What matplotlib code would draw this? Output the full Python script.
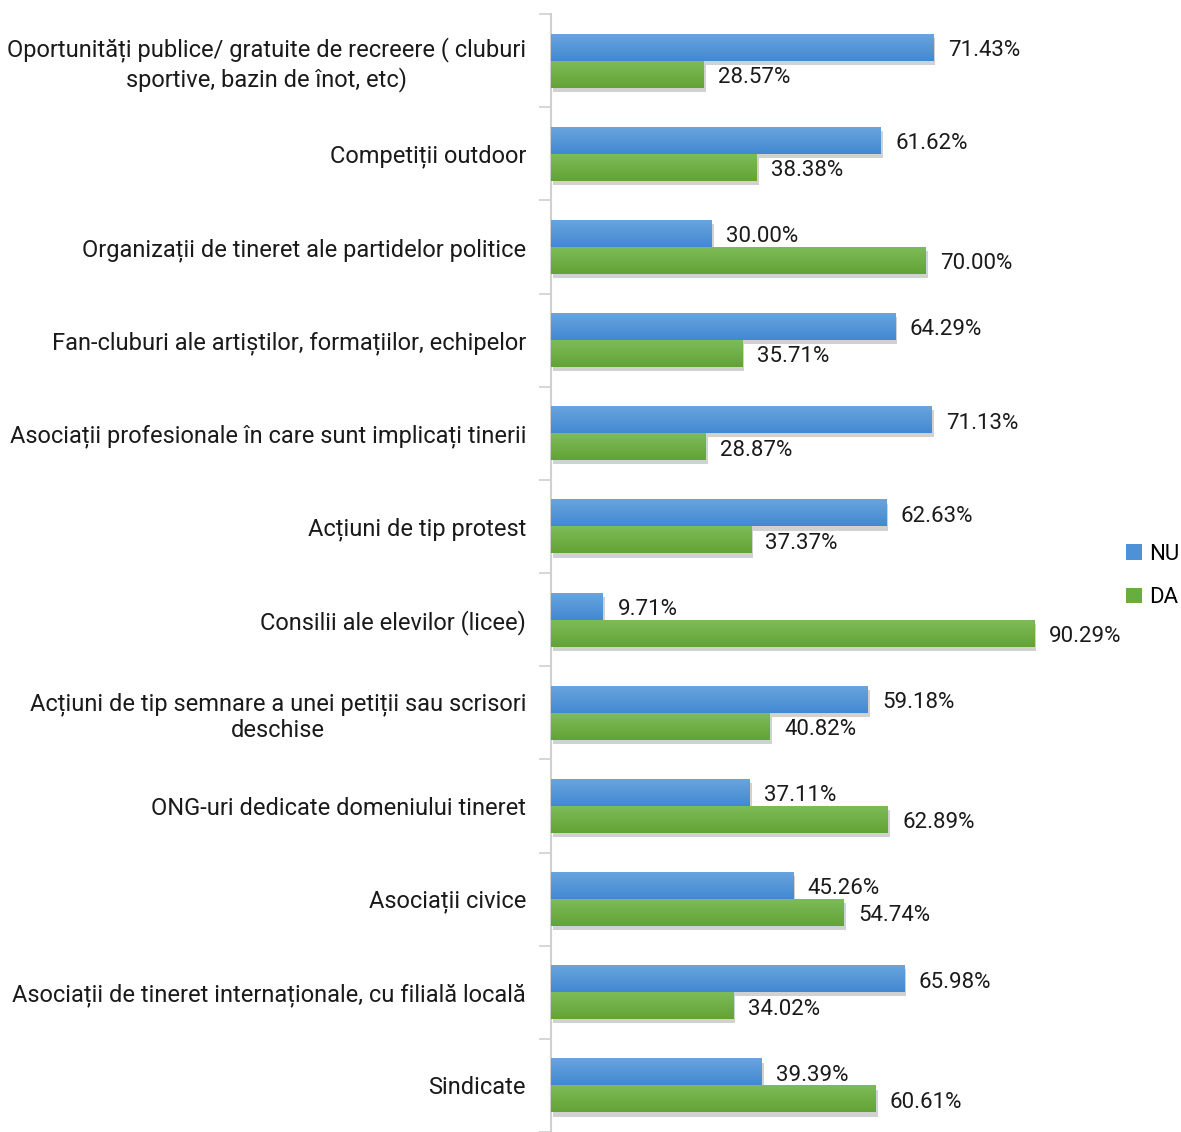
import matplotlib
matplotlib.use("Agg")
import matplotlib.pyplot as plt
import matplotlib.patheffects as pe
from matplotlib.colors import LinearSegmentedColormap
import numpy as np

plt.rcParams['font.family'] = ['Roboto', 'DejaVu Sans']

categories = [
    "Oportunități publice/ gratuite de recreere ( cluburi\nsportive, bazin de înot, etc)",
    "Competiții outdoor",
    "Organizații de tineret ale partidelor politice",
    "Fan-cluburi ale artiștilor, formațiilor, echipelor",
    "Asociații profesionale în care sunt implicați tinerii",
    "Acțiuni de tip protest",
    "Consilii ale elevilor (licee)",
    "Acțiuni de tip semnare a unei petiții sau scrisori\ndeschise",
    "ONG-uri dedicate domeniului tineret",
    "Asociații civice",
    "Asociații de tineret internaționale, cu filială locală",
    "Sindicate",
]
nu_values = [71.43, 61.62, 30.00, 64.29, 71.13, 62.63, 9.71, 59.18, 37.11, 45.26, 65.98, 39.39]
da_values = [28.57, 38.38, 70.00, 35.71, 28.87, 37.37, 90.29, 40.82, 62.89, 54.74, 34.02, 60.61]
series_names = ["NU", "DA"]

blue = "#4f91d6"
green = "#6aad3f"
blue_grad = LinearSegmentedColormap.from_list("bg", ["#6aa6de", "#4288d2"])
green_grad = LinearSegmentedColormap.from_list("gg", ["#7fbc5a", "#62a335"])

fig = plt.figure(figsize=(11.81, 11.32), dpi=100)
ax = fig.add_axes([551/1181, 0.0, (1090-551)/1181, 1 - 14/1132])

n = len(categories)
y = np.arange(n)
h = 0.29
shadow = [pe.SimplePatchShadow(offset=(1.5, -3), shadow_rgbFace='black', alpha=0.18), pe.Normal()]
b1 = ax.barh(y - h/2, nu_values, height=h, color=blue, label=series_names[0], zorder=3)
b2 = ax.barh(y + h/2, da_values, height=h, color=green, label=series_names[1], zorder=3)

grad = np.linspace(0, 1, 64).reshape(-1, 1)
for bars, cmap in ((b1, blue_grad), (b2, green_grad)):
    for b in bars:
        b.set_path_effects(shadow)
        x0, y0 = b.get_x(), b.get_y()
        w, hh = b.get_width(), b.get_height()
        im = ax.imshow(grad, cmap=cmap, aspect='auto', origin='upper',
                       extent=(x0, x0 + w, y0 + hh, y0), zorder=3.5,
                       interpolation='bilinear')
        im.set_clip_path(b)

fs_cat = 17
fs_val = 16
dy = 0.035
for i in range(n):
    ax.text(nu_values[i] + 2.7, y[i] - h/2 + dy, f"{nu_values[i]:.2f}%", va='center', ha='left',
            fontsize=fs_val, color='#1a1a1a')
    ax.text(da_values[i] + 2.7, y[i] + h/2 + dy, f"{da_values[i]:.2f}%", va='center', ha='left',
            fontsize=fs_val, color='#1a1a1a')

ax.set_xlim(0, 100.7)
ax.set_ylim(n - 0.5, -0.5)
ax.set_xticks([])
ax.set_yticks(np.arange(n + 1) - 0.5)
ax.set_yticklabels([])
ax.set_yticks(y, minor=True)
ax.set_yticklabels(categories, minor=True, fontsize=fs_cat, color='#1a1a1a', multialignment='center')
ax.tick_params(axis='y', which='major', length=9, color='#d0d0d0', width=1.2)
ax.tick_params(axis='y', which='minor', length=0, pad=18)
for s in ['top', 'right', 'bottom']:
    ax.spines[s].set_visible(False)
ax.spines['left'].set_color('#d0d0d0')
ax.spines['left'].set_linewidth(1.5)

leg = fig.legend(handles=[b1, b2], labels=series_names, loc='center left',
                 bbox_to_anchor=(1126/1181, 1 - 576/1132), frameon=False, borderpad=0,
                 borderaxespad=0, fontsize=fs_val, handlelength=0.7, handleheight=0.7,
                 handletextpad=0.35, labelspacing=1.0)
for hnd in leg.legend_handles:
    hnd.set_path_effects([])

fig.savefig("out.png", dpi=100)
